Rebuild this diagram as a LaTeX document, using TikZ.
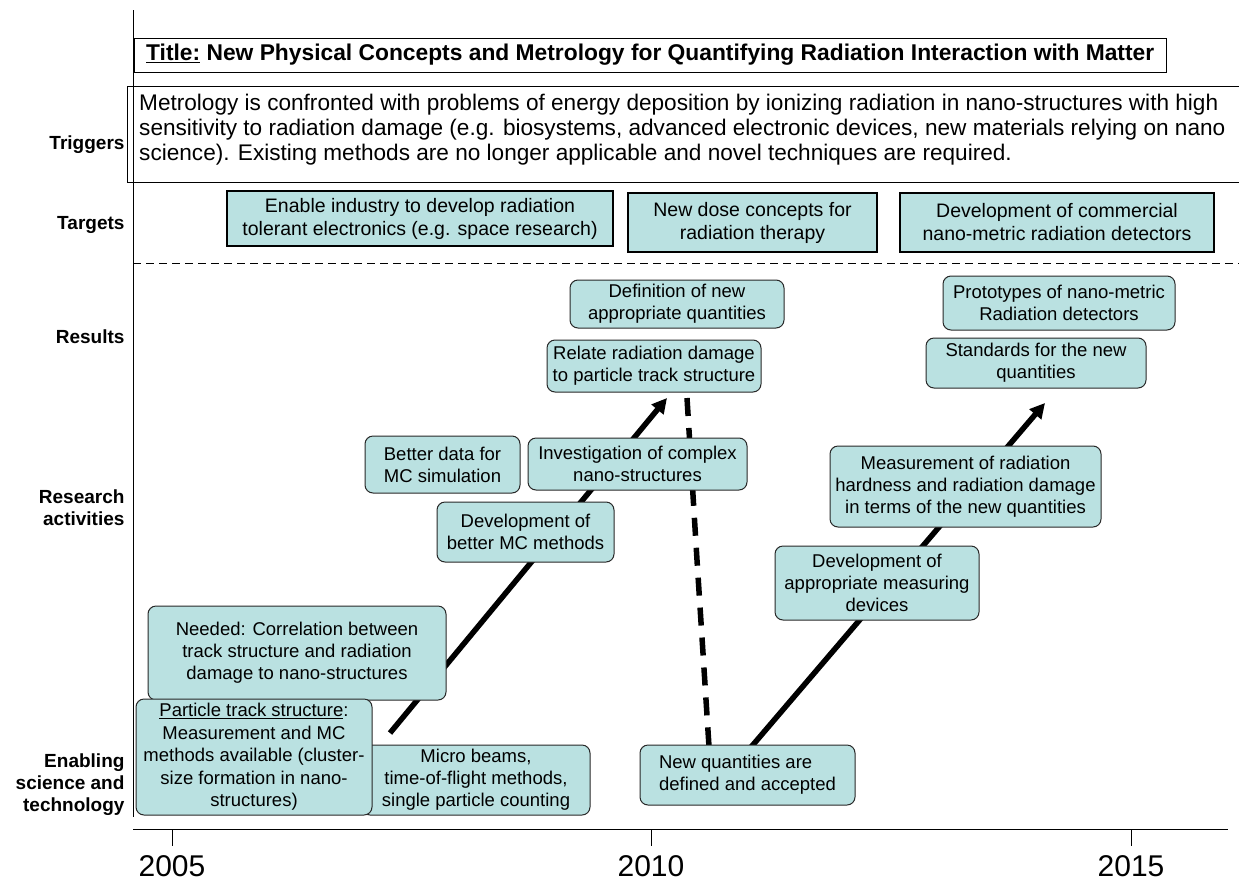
\documentclass[tikz,border=0pt]{standalone}
\usepackage{fontspec}
\setmainfont{Liberation Sans}
\usetikzlibrary{arrows.meta}
\definecolor{boxfill}{RGB}{186,225,225}
\definecolor{boxline}{RGB}{40,40,40}
\begin{document}
\begin{tikzpicture}[x=1pt,y=-1pt,
  rbox/.style={draw=boxline,fill=boxfill,line width=1pt,rounded corners=8pt,align=center,inner sep=1pt,
    font=\fontsize{18.5}{22}\selectfont},
  tbox/.style={draw=black,fill=boxfill,line width=1.4pt,align=center,inner sep=1pt,
    font=\fontsize{19.5}{23}\selectfont},
  lab/.style={font=\bfseries\fontsize{19}{22}\selectfont,align=right,anchor=east},
  bigarrow/.style={line width=5.5pt,-{Triangle[length=15pt,width=15pt]}},
  year/.style={font=\fontsize{30}{33}\selectfont},
]
\useasboundingbox (0,0) rectangle (1239,881);

% axes
\coordinate (vtop) at (133,10);
\coordinate (vbot) at (133,817);
\coordinate (hl) at (133,829);
\coordinate (hr) at (1228,829);
\draw[line width=1pt] (vtop) -- (vbot);
\draw[line width=1pt] (hl) -- (hr);
\foreach \x/\y in {172/2005,651/2010,1131/2015}{
  \draw[line width=1pt] (\x,829) -- (\x,846);
  \node[year] (y\y) at (\x,866) {\y};
}

% dashed separator
\coordinate (dl) at (133,263);
\coordinate (dr) at (1239,263);
\draw[line width=1pt,dash pattern=on 8pt off 5pt] (dl) -- (dr);

% row labels
\node[lab] (lTrig) at (128,145) {Triggers};
\node[lab] (lTarg) at (128,225) {Targets};
\node[lab] (lRes) at (128,337) {Results};
\node[lab] (lRA) at (128,508) {Research\\activities};
\node[lab] (lEn) at (128,785) {Enabling\\science and\\technology};

% title
\node[draw=black,line width=1.2pt,minimum width=1032pt,minimum height=34pt,anchor=north west,inner sep=0pt] (titlebox) at (134,38) {};
\node[anchor=west,font=\bfseries\fontsize{22.8}{26}\selectfont,inner sep=0pt] (title) at (146,55) {\underline{Title:} New Physical Concepts and Metrology for Quantifying Radiation Interaction with Matter};

% triggers
\node[draw=black,line width=1pt,minimum width=1112pt,minimum height=96pt,anchor=north west,inner sep=0pt] (trigbox) at (127,86) {};
\node[anchor=north west,align=left,font=\fontsize{22.6}{25}\selectfont,inner sep=0pt] (trig) at (139,94)
 {Metrology is confronted with problems of energy deposition by ionizing radiation in nano-structures with high\\
  sensitivity to radiation damage (e.g. biosystems, advanced electronic devices, new materials relying on nano\\
  science). Existing methods are no longer applicable and novel techniques are required.};

% targets
\node[tbox,minimum width=386pt,minimum height=55pt] (t1) at (420,218.5) {Enable industry to develop radiation\\tolerant electronics (e.g. space research)};
\node[tbox,minimum width=249pt,minimum height=59pt] (t2) at (752.5,222.5) {New dose concepts for\\radiation therapy};
\node[tbox,minimum width=314pt,minimum height=59pt] (t3) at (1057,222.5) {Development of commercial\\nano-metric radiation detectors};

% arrows (behind boxes)
\coordinate (a1s) at (390,733);
\coordinate (a1e) at (667,398);
\coordinate (a2s) at (687,398);
\coordinate (a2m) at (697,560);
\coordinate (a2e) at (710,762);
\coordinate (a3s) at (740,760);
\coordinate (a3e) at (1045,403);
\draw[bigarrow] (a1s) -- (a1e);
\draw[bigarrow,dash pattern=on 18pt off 12pt] (a2s) -- (a2m) -- (a2e);
\draw[bigarrow] (a3s) -- (a3e);

% results
\node[rbox,minimum width=214pt,minimum height=48pt] (def) at (677,304) {Definition of new\\appropriate quantities};
\node[rbox,minimum width=214pt,minimum height=52pt] (rel) at (654,366) {Relate radiation damage\\to particle track structure};
\node[rbox,minimum width=232pt,minimum height=54pt] (proto) at (1059,303) {Prototypes of nano-metric\\Radiation detectors};
\node[rbox,minimum width=220pt,minimum height=50pt] (std) at (1036,363) {Standards for the new\\quantities};

% research activities
\node[rbox,minimum width=155pt,minimum height=57pt] (bd) at (442.5,464.5) {Better data for\\MC simulation};
\node[rbox,minimum width=219pt,minimum height=52pt] (inv) at (637.5,464) {Investigation of complex\\nano-structures};
\node[rbox,minimum width=177pt,minimum height=60pt] (dmc) at (525.5,532) {Development of\\better MC methods};
\node[rbox,minimum width=271pt,minimum height=81pt] (meas) at (965.5,486.5) {Measurement of radiation\\hardness and radiation damage\\in terms of the new quantities};
\node[rbox,minimum width=204pt,minimum height=74pt] (dam) at (877,583) {Development of\\appropriate measuring\\devices};

% enabling
\node[rbox,minimum width=298pt,minimum height=94pt] (need) at (297,653) {Needed: Correlation between\\track structure and radiation\\damage to nano-structures};
\node[rbox,minimum width=228pt,minimum height=70pt] (micro) at (476,780) {Micro beams,\\time-of-flight methods,\\single particle counting};
\node[rbox,minimum width=236pt,minimum height=116pt,font=\fontsize{18.5}{22.5}\selectfont] (part) at (254,757) {\underline{Particle track structure}:\\Measurement and MC\\methods available (cluster-\\size formation in nano-\\structures)};
\node[rbox,minimum width=215pt,minimum height=60pt,align=left] (newq) at (747.5,775) {New quantities are\\defined and accepted};

\end{tikzpicture}
\end{document}
